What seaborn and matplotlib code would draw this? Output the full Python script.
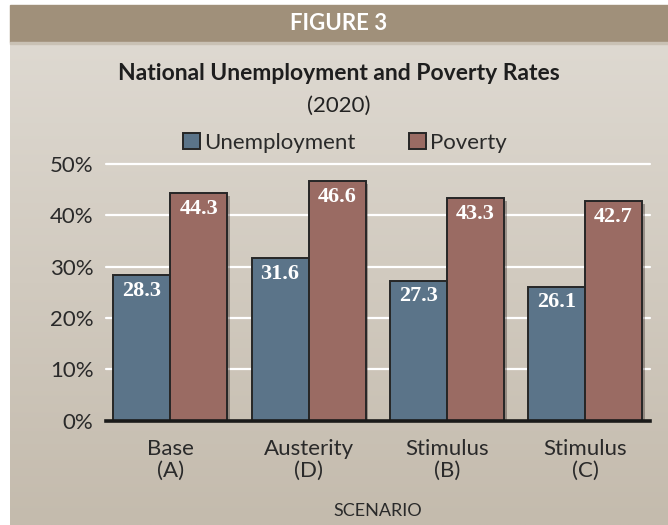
import numpy as np
import pandas as pd
import matplotlib
matplotlib.use("Agg")
import matplotlib.pyplot as plt
import matplotlib.patheffects as pe
from matplotlib.patches import Rectangle
import seaborn as sns

# Data
scenarios = ["Base\n(A)", "Austerity\n(D)", "Stimulus\n(B)", "Stimulus\n(C)"]
unemployment = [28.3, 31.6, 27.3, 26.1]
poverty = [44.3, 46.6, 43.3, 42.7]
yticks = [0, 10, 20, 30, 40, 50]

df = pd.DataFrame({
    "Scenario": scenarios * 2,
    "Rate": unemployment + poverty,
    "Series": ["Unemployment"] * 4 + ["Poverty"] * 4,
})

sns.set_theme(style="white")
plt.rcParams["font.family"] = ["Lato", "DejaVu Sans"]

W, H = 668, 525
fig = plt.figure(figsize=(W / 100, H / 100), dpi=100)

# background panel with gradient + header band
bg = fig.add_axes([0, 0, 1, 1], zorder=-10)
bg.set_xlim(0, W)
bg.set_ylim(H, 0)
bg.axis("off")
top_c = np.array([0xde, 0xd9, 0xd1]) / 255
bot_c = np.array([0xc4, 0xbb, 0xad]) / 255
t = np.linspace(0, 1, 256)[:, None]
grad = (top_c * (1 - t) + bot_c * t)[:, None, :].repeat(2, axis=1)
bg.imshow(grad, extent=(10, W, H, 42), aspect="auto", zorder=0)
bg.add_patch(Rectangle((10, 5), W - 10, 37, color="#a0907a", zorder=1))
bg.add_patch(Rectangle((10, 42), W - 10, 1.5, color="#c9c1b4", zorder=1))

fig.text(339 / W, 1 - 24 / H, "FIGURE 3", color="white", fontsize=16,
         fontweight="bold", ha="center", va="center")
fig.text(339 / W, 1 - 73 / H, "National Unemployment and Poverty Rates",
         color="#1e1e1e", fontsize=16.5, fontweight="bold", ha="center", va="center")
fig.text(339 / W, 1 - 106 / H, "(2020)", color="#222222", fontsize=16,
         ha="center", va="center")

ax = fig.add_axes([106 / W, 1 - 420.7 / H, 544 / W, 256.7 / H])
ax.set_facecolor("none")

sns.barplot(data=df, x="Scenario", y="Rate", hue="Series",
            palette=["#5b7489", "#9a6b63"], edgecolor="#262626",
            linewidth=1.4, width=0.825, saturation=1, ax=ax, zorder=3)

ax.set_ylim(0, 50)
ax.set_xlim(-0.465, 3.47)
ax.set_yticks(yticks)
ax.set_yticklabels([f"{v}%" for v in yticks], fontsize=16, color="#2a2a2a")
ax.tick_params(axis="x", labelsize=16, colors="#2a2a2a", length=0, pad=13)
ax.tick_params(axis="y", length=0, pad=9)
for lab in ax.get_xticklabels():
    lab.set_linespacing(1.12)
for v in yticks[1:]:
    ax.axhline(v, color="white", lw=1.6, zorder=1, clip_on=False)
for s in ["top", "right", "left"]:
    ax.spines[s].set_visible(False)
ax.spines["bottom"].set_color("#1a1a1a")
ax.spines["bottom"].set_linewidth(2.6)
ax.spines["bottom"].set_zorder(5)
ax.set_xlabel("SCENARIO", fontsize=13, color="#2a2a2a", labelpad=16)
ax.set_ylabel("")

for p in ax.patches:
    p.set_path_effects([pe.SimplePatchShadow(offset=(2, -2), alpha=0.35),
                        pe.Normal()])

for cont in ax.containers:
    for bar in cont:
        h = bar.get_height()
        ax.annotate(f"{h:.1f}", (bar.get_x() + bar.get_width() / 2, h),
                    xytext=(0, -11), textcoords="offset points",
                    ha="center", va="center", color="white", fontsize=16,
                    fontweight="bold", family="Liberation Serif", zorder=6)

sns.move_legend(ax, "center", bbox_to_anchor=(239 / 544, 1 + 21 / 256.7),
                ncol=2, frameon=False, title=None, fontsize=16,
                handlelength=0.75, handleheight=0.75, handletextpad=0.2,
                columnspacing=2.4, labelcolor="#2a2a2a")

fig.savefig("out.png", dpi=100)
